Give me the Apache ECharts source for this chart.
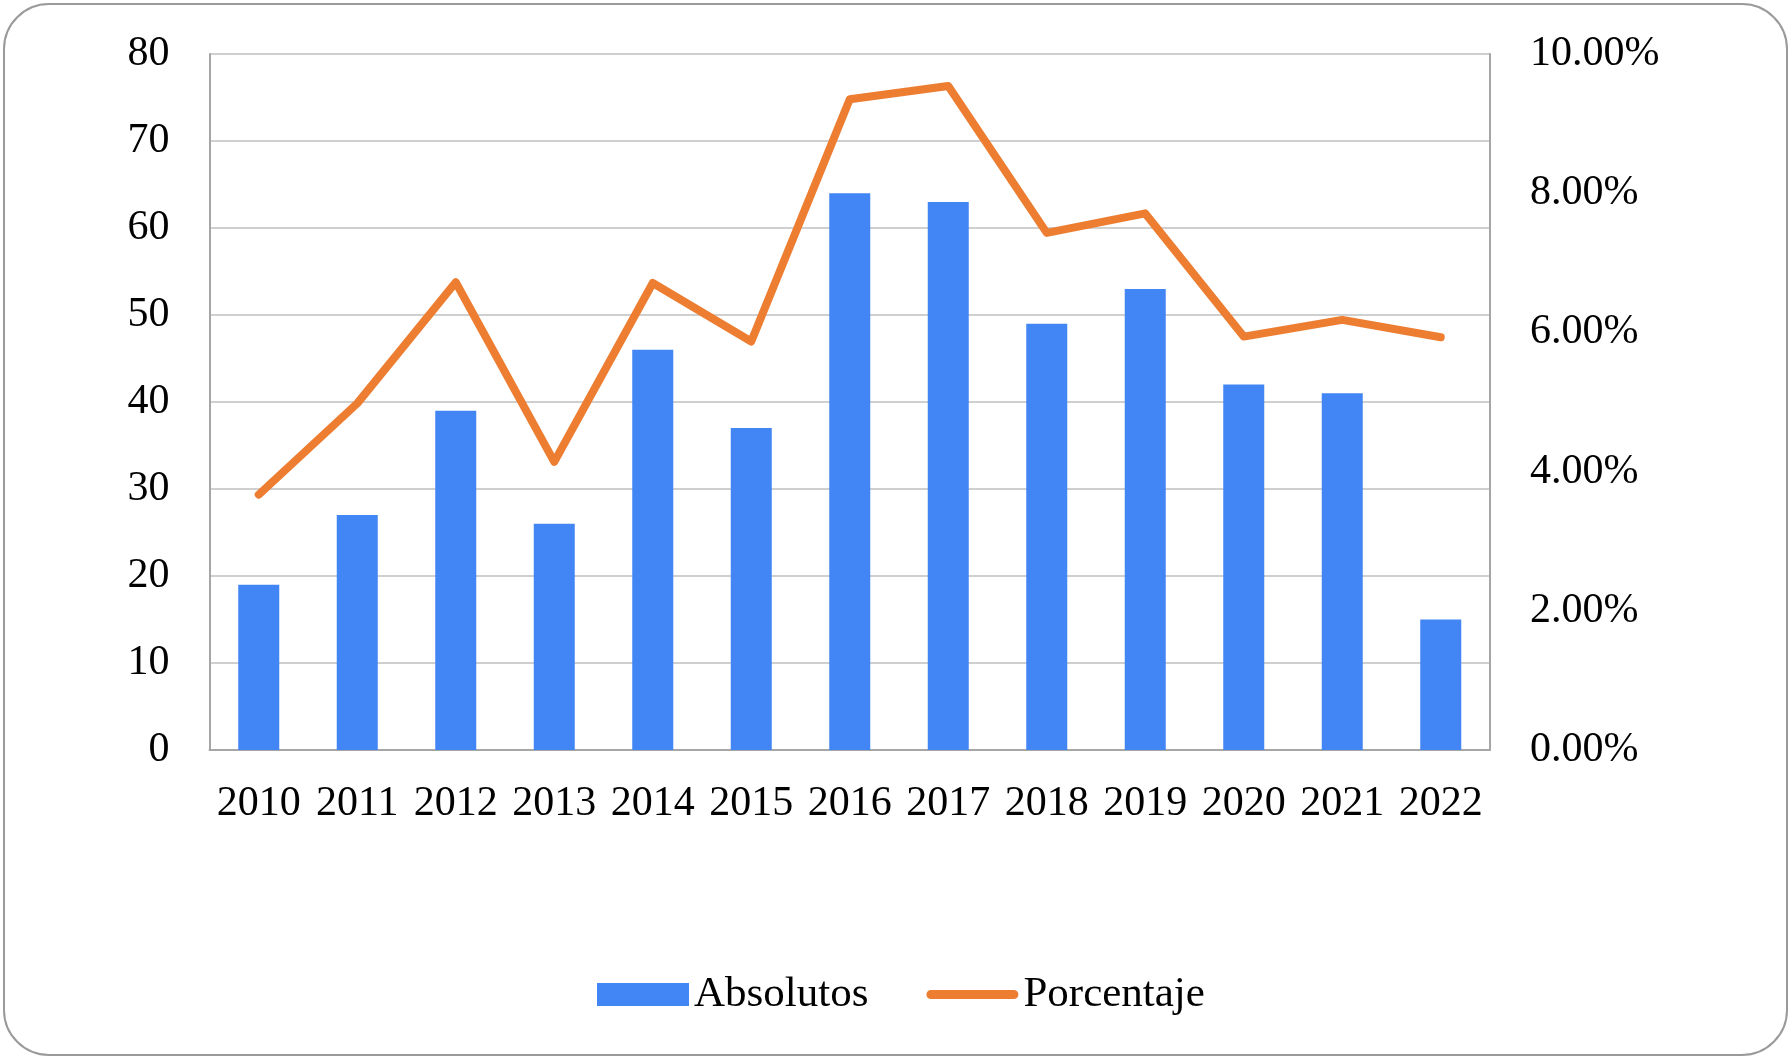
<!DOCTYPE html>
<html>
<head>
<meta charset="utf-8">
<script src="https://cdn.jsdelivr.net/npm/echarts@6/dist/echarts.min.js"></script>
<style>
html,body{margin:0;padding:0;background:#fff;}
#chart{width:1792px;height:1063px;}
</style>
</head>
<body>
<div id="chart"></div>
<script>
const years = ['2010','2011','2012','2013','2014','2015','2016','2017','2018','2019','2020','2021','2022'];
const absolutos = [19, 27, 39, 26, 46, 37, 64, 63, 49, 53, 42, 41, 15];
const porcentaje = [3.67, 4.98, 6.72, 4.14, 6.71, 5.87, 9.35, 9.54, 7.43, 7.71, 5.94, 6.18, 5.93];

const FONT = 'Liberation Serif';
const chart = echarts.init(document.getElementById('chart'), null, {renderer:'canvas'});
chart.setOption({
  animation: false,
  backgroundColor: '#ffffff',
  textStyle: {fontFamily: FONT, color: '#000'},
  graphic: [{
    type: 'rect',
    shape: {x: 4, y: 4, width: 1783, height: 1051, r: 45},
    style: {fill: 'none', stroke: '#9a9a9a', lineWidth: 2},
    silent: true
  }],
  grid: {left: 209.5, right: 302, top: 54, bottom: 313, containLabel: false},
  legend: {
    left: 592, top: 968,
    itemWidth: 92, itemHeight: 23, itemGap: 58,
    textStyle: {fontFamily: FONT, fontSize: 43, color: '#000'},
    data: [
      {name: 'Absolutos', icon: 'rect'},
      {name: 'Porcentaje', icon: 'path://M5,0 H95 A5,5 0 0 1 95,10 H5 A5,5 0 0 1 5,0 Z', symbolKeepAspect: true}
    ]
  },
  xAxis: {
    type: 'category',
    data: years,
    axisLine: {show: true, lineStyle: {color: '#a6a6a6', width: 2}},
    axisTick: {show: false},
    axisLabel: {fontFamily: FONT, fontSize: 42, color: '#000', margin: 33, interval: 0}
  },
  yAxis: [{
    type: 'value', min: 0, max: 80, interval: 10,
    axisLine: {show: true, lineStyle: {color: '#a6a6a6', width: 2}},
    axisTick: {show: false},
    splitLine: {show: true, lineStyle: {color: '#cfcfcf', width: 2}},
    axisLabel: {fontFamily: FONT, fontSize: 42, color: '#000', margin: 40}
  }, {
    type: 'value', min: 0, max: 10, interval: 2, position: 'right',
    axisLine: {show: true, lineStyle: {color: '#a6a6a6', width: 2}},
    axisTick: {show: false},
    splitLine: {show: false},
    axisLabel: {fontFamily: FONT, fontSize: 42, color: '#000', margin: 40,
      formatter: v => v.toFixed(2) + '%'}
  }],
  series: [{
    name: 'Absolutos',
    type: 'bar',
    data: absolutos,
    yAxisIndex: 0,
    barWidth: 41,
    itemStyle: {color: '#4285f4'}
  }, {
    name: 'Porcentaje',
    type: 'line',
    data: porcentaje,
    yAxisIndex: 1,
    symbol: 'none',
    lineStyle: {color: '#ed7d31', width: 8, cap: 'round', join: 'round'},
    itemStyle: {color: '#ed7d31'}
  }]
});
</script>
</body>
</html>
